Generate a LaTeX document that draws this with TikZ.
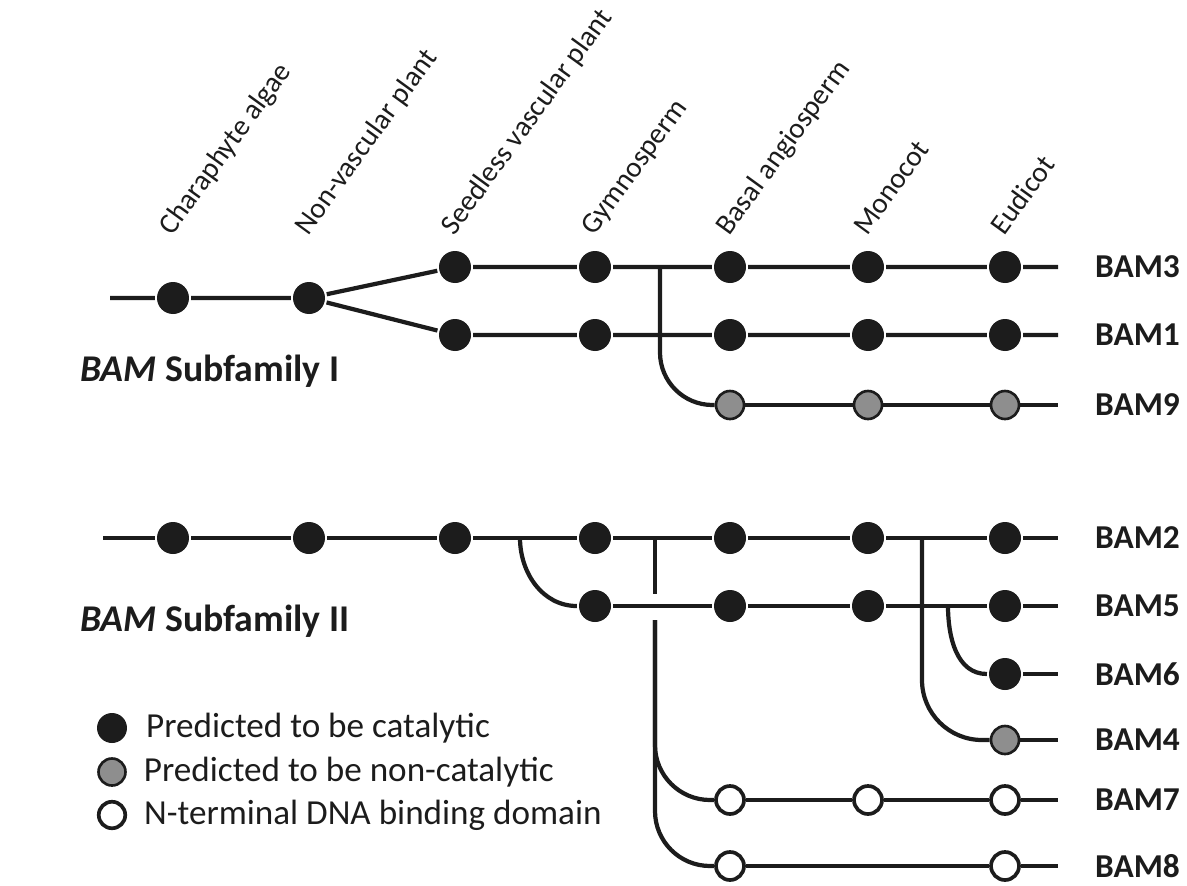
\documentclass[tikz,border=0pt]{standalone}
\usepackage{fontspec}
\setmainfont{Carlito}
\usetikzlibrary{positioning}
\definecolor{ink}{HTML}{1C1C1C}
\definecolor{nocat}{HTML}{8E8E8E}
\tikzset{
  cat/.style = {circle, fill=ink, minimum size=0.64cm, inner sep=0pt},
  noncat/.style = {circle, fill=nocat, draw=ink, line width=1.5pt, minimum size=0.56cm, inner sep=0pt},
  dna/.style = {circle, fill=white, draw=ink, line width=2.1pt, minimum size=0.56cm, inner sep=0pt},
  gene/.style = {anchor=west, inner sep=0pt, font=\fontsize{19}{22}\selectfont\bfseries},
  taxon/.style = {anchor=base west, inner sep=0pt, rotate=54, font=\fontsize{16.5}{19}\selectfont},
  family/.style = {anchor=base west, inner sep=0pt, font=\fontsize{21.5}{24}\selectfont\bfseries},
  keytext/.style = {anchor=west, inner sep=0pt, font=\fontsize{20}{23}\selectfont}
}

\begin{document}
\begin{tikzpicture}[x=0.02cm, y=-0.02cm, line width=2.4pt, color=ink]
    \useasboundingbox (0,0) rectangle (1187,886);

    \foreach \t/\x [count=\i] in {Charaphyte algae/173, Non-vascular plant/309, Seedless vascular plant/455,
        Gymnosperm/595, Basal angiosperm/730, Monocot/868, Eudicot/1005}
        \node[taxon] (tax\i) at (\x-2,238) {\t};

    \foreach \g/\y in {3/267, 1/335, 9/405, 2/538, 5/606, 6/674, 4/740, 7/800, 8/866} {
        \coordinate (e\g) at (1058,\y);
        \node[gene] (g\g) at (1093,\y) {BAM\g};
    }

    % subfamily I
    \coordinate (r1) at (110,298);
    \node[cat] (ca) at (173,298) {};
    \node[cat] (nv) at (309,298) {};
    \foreach \x [count=\i from 3] in {455,595,730,868,1005} {
        \node[cat] (bam3-\i) at (\x,267) {};
        \node[cat] (bam1-\i) at (\x,335) {};
    }
    \foreach \x [count=\i from 5] in {730,868,1005}
        \node[noncat] (bam9-\i) at (\x,405) {};
    \coordinate (j9) at (660,267);

    \draw (r1) -- (ca) -- (nv) -- (bam3-3) -- (bam3-4) -- (bam3-5) -- (bam3-6) -- (bam3-7) -- (e3);
    \draw (nv) -- (bam1-3) -- (bam1-4) -- (bam1-5) -- (bam1-6) -- (bam1-7) -- (e1);
    \draw (bam9-5) -- (bam9-6) -- (bam9-7) -- (e9);
    \draw[rounded corners=1.05cm] (j9) |- (bam9-5);

    \node[family] (sub1) at (78,381) {\textit{BAM} Subfamily I};

    % subfamily II
    \coordinate (r2) at (103,538);
    \foreach \x [count=\i] in {173,309,455,595,730,868,1005}
        \node[cat] (bam2-\i) at (\x,538) {};
    \foreach \x [count=\i from 4] in {595,730,868,1005}
        \node[cat] (bam5-\i) at (\x,606) {};
    \node[cat] (bam6-7) at (1005,674) {};
    \node[noncat] (bam4-7) at (1005,740) {};
    \foreach \x [count=\i from 5] in {730,868,1005}
        \node[dna] (bam7-\i) at (\x,800) {};
    \node[dna] (bam8-5) at (730,866) {};
    \node[dna] (bam8-7) at (1005,866) {};

    \coordinate (j5) at (520,538);
    \coordinate (j7) at (655,538);
    \coordinate (j7a) at (655,594);
    \coordinate (j7b) at (655,620);
    \coordinate (j4) at (922,538);
    \coordinate (j6) at (948,606);

    \draw (r2) -- (bam2-1) -- (bam2-2) -- (bam2-3) -- (bam2-4) -- (bam2-5) -- (bam2-6) -- (bam2-7) -- (e2);
    \draw (bam5-4) -- (bam5-5) -- (bam5-6) -- (bam5-7) -- (e5);
    \draw (bam6-7) -- (e6);
    \draw (bam4-7) -- (e4);
    \draw (bam7-5) -- (bam7-6) -- (bam7-7) -- (e7);
    \draw (bam8-5) -- (bam8-7) -- (e8);
    \draw (j5) to[out=-90, in=180] (bam5-4);
    \draw (j7) -- (j7a);
    \draw[rounded corners=1.1cm] (j7b) |- (bam7-5);
    \draw[rounded corners=1.1cm] (j7b) |- (bam8-5);
    \draw[rounded corners=1.2cm] (j4) |- (bam4-7);
    \draw (j6) to[out=-90, in=180] (bam6-7);

    \node[family] (sub2) at (78,631) {\textit{BAM} Subfamily II};

    % key
    \node[cat, minimum size=0.6cm] (key1) at (112,728) {};
    \node[noncat, minimum size=0.54cm] (key2) at (112,772) {};
    \node[dna, minimum size=0.53cm] (key3) at (112,815) {};
    \node[keytext, right=0.3cm of key1] (lab1) {Predicted to be catalytic};
    \node[keytext, right=0.3cm of key2] (lab2) {Predicted to be non-catalytic};
    \node[keytext, right=0.3cm of key3] (lab3) {N-terminal DNA binding domain};
\end{tikzpicture}
\end{document}
